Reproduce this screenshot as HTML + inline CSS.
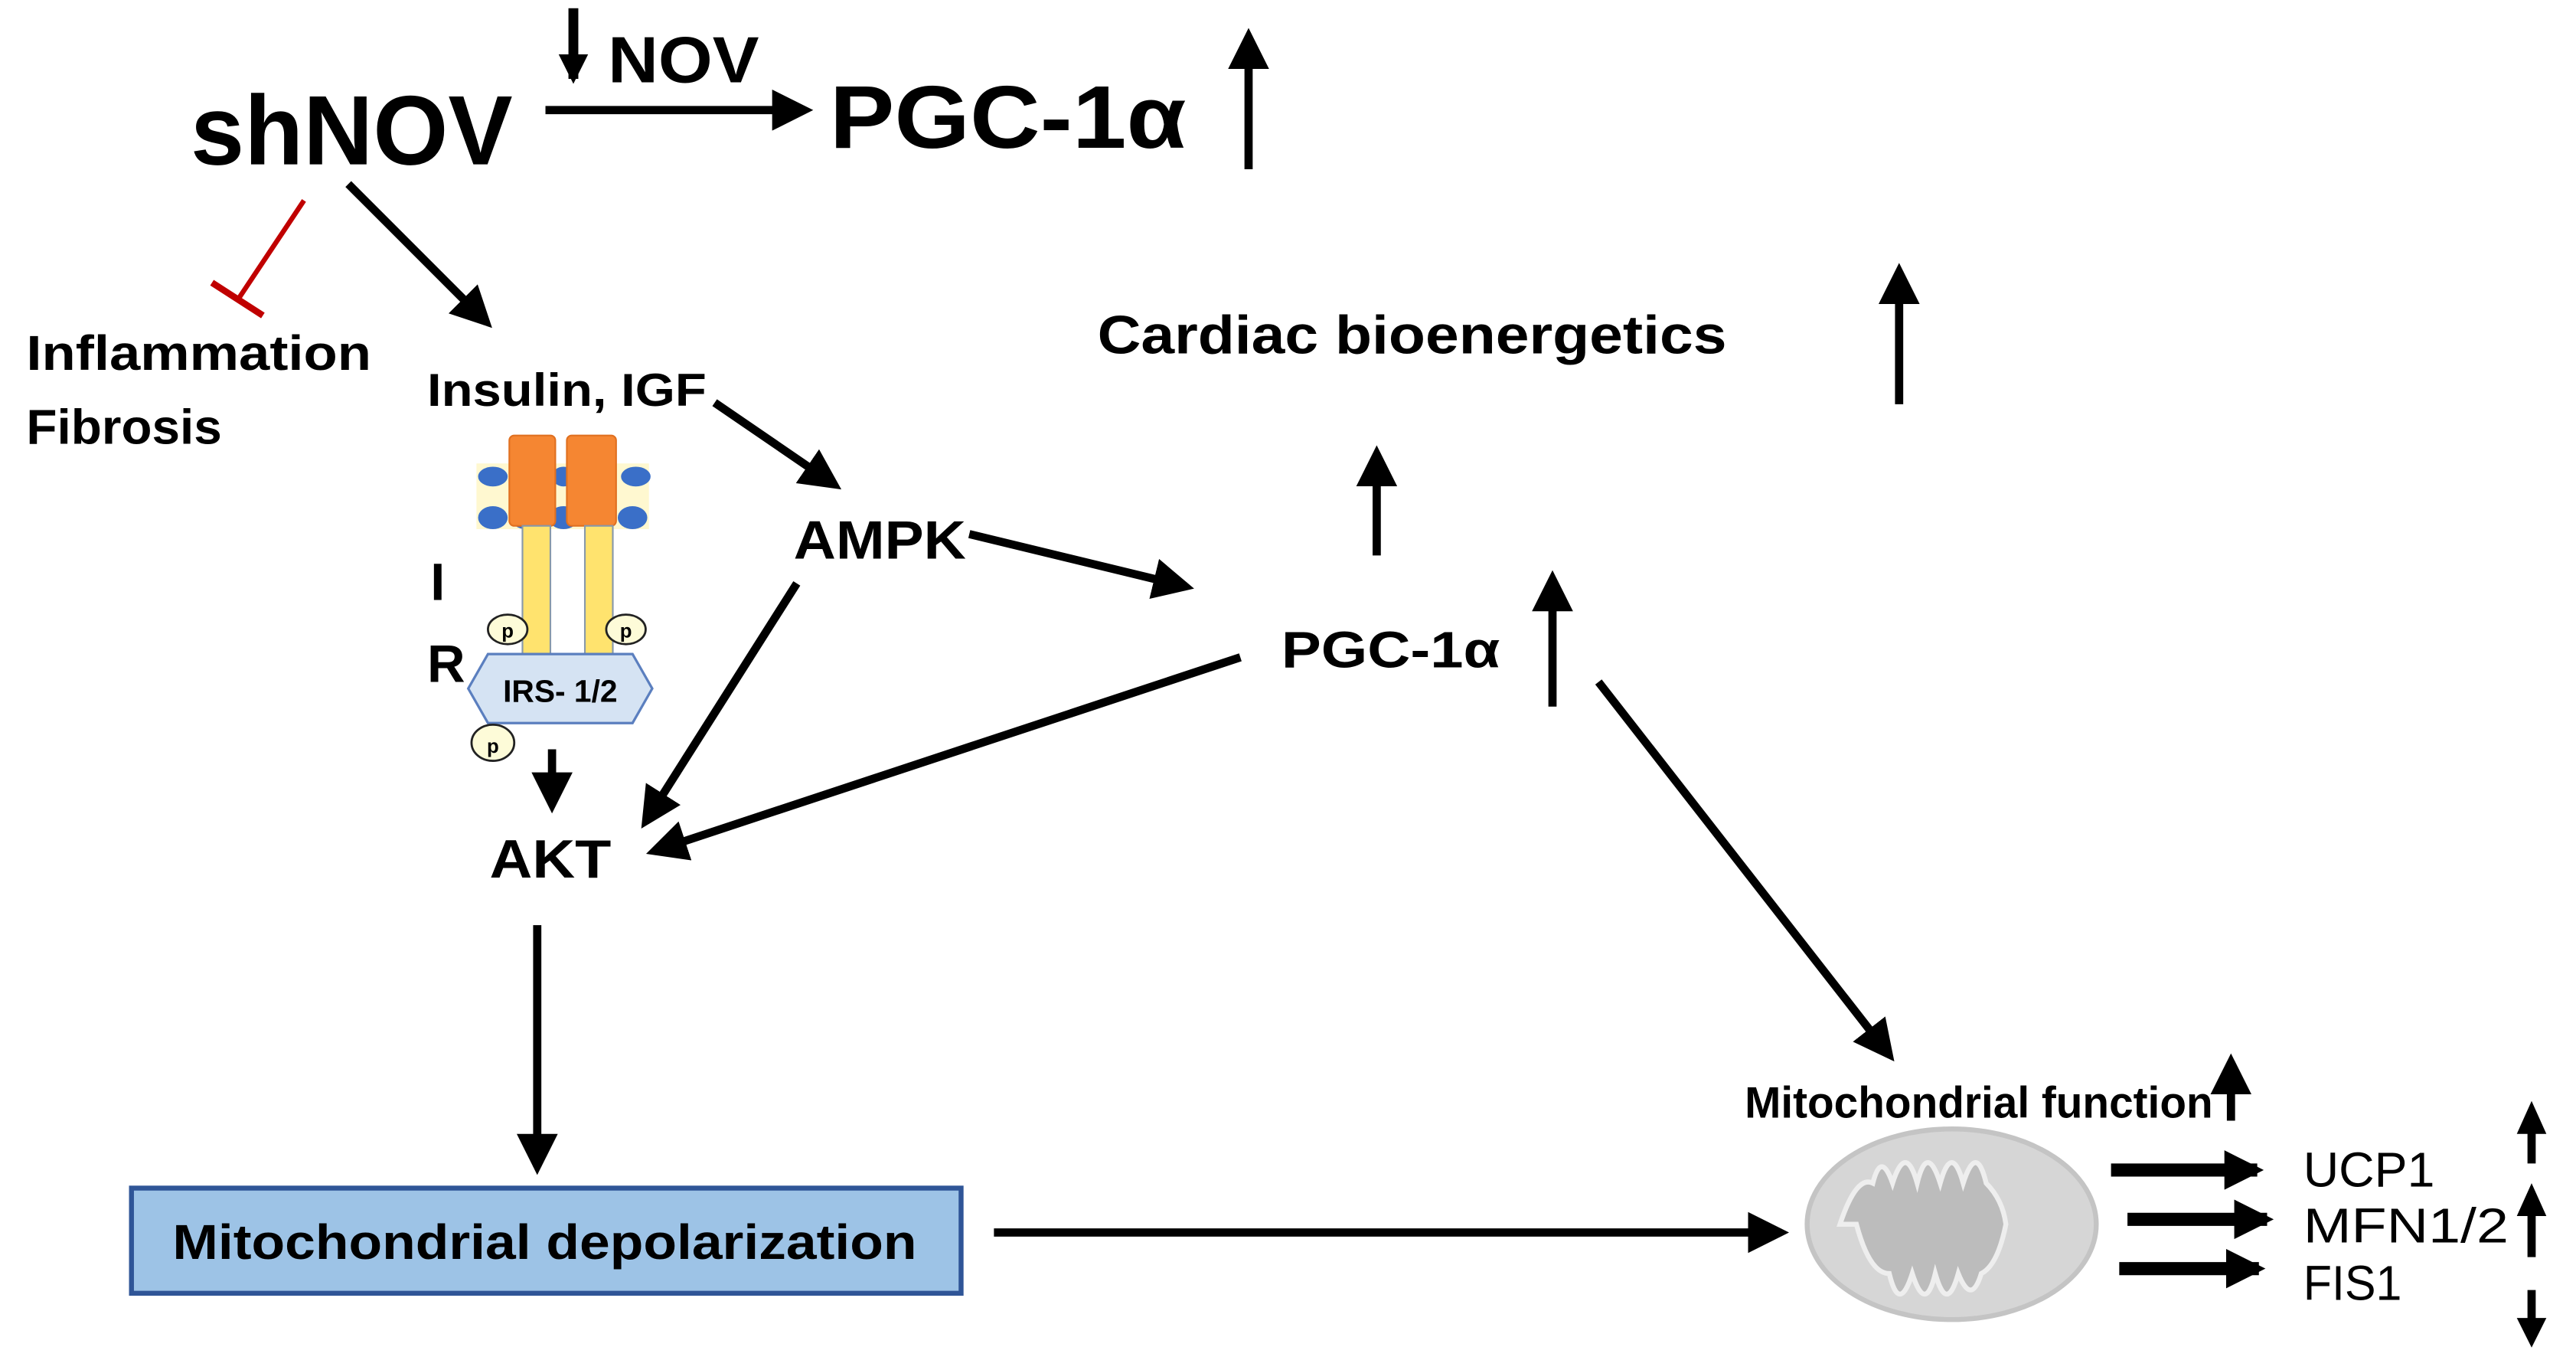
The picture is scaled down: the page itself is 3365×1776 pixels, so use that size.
<!DOCTYPE html>
<html><head><style>html,body{margin:0;padding:0;background:#fff}svg{display:block}</style></head>
<body>
<svg width="3365" height="1776" viewBox="0 0 1568 827.6" xmlns="http://www.w3.org/2000/svg" font-family="'Liberation Sans', sans-serif">
<defs>
<marker id="a" markerWidth="5" markerHeight="5" refX="4" refY="2.5" orient="auto" markerUnits="strokeWidth"><path d="M0,0 L5,2.5 L0,5 z" fill="#000"/></marker>
<marker id="b" markerWidth="3" markerHeight="3" refX="2.5" refY="1.5" orient="auto" markerUnits="strokeWidth"><path d="M0,0 L3,1.5 L0,3 z" fill="#000"/></marker>
</defs>
<g font-weight="bold" fill="#000">
<text x="116" y="100" font-size="60" textLength="196" lengthAdjust="spacingAndGlyphs">shNOV</text>
<text x="370" y="50" font-size="40" textLength="92" lengthAdjust="spacingAndGlyphs">NOV</text>
<text x="505" y="90" font-size="54" textLength="217" lengthAdjust="spacingAndGlyphs">PGC-1α</text>
<text x="16" y="225" font-size="30" textLength="210" lengthAdjust="spacingAndGlyphs">Inflammation</text>
<text x="16" y="270" font-size="30" textLength="119" lengthAdjust="spacingAndGlyphs">Fibrosis</text>
<text x="260" y="247" font-size="28" textLength="170" lengthAdjust="spacingAndGlyphs">Insulin, IGF</text>
<text x="483" y="340" font-size="33" textLength="105" lengthAdjust="spacingAndGlyphs">AMPK</text>
<text x="668" y="215" font-size="33" textLength="383" lengthAdjust="spacingAndGlyphs">Cardiac bioenergetics</text>
<text x="780" y="406" font-size="31" textLength="133" lengthAdjust="spacingAndGlyphs">PGC-1α</text>
<text x="262" y="365" font-size="32">I</text>
<text x="260" y="415" font-size="32">R</text>
<text x="298" y="534" font-size="33" textLength="74" lengthAdjust="spacingAndGlyphs">AKT</text>
</g>
<g stroke="#000" stroke-width="5" fill="none">
<line x1="349" y1="5" x2="349" y2="48" stroke-width="6" marker-end="url(#b)"/>
<line x1="332" y1="67" x2="490" y2="67" marker-end="url(#a)"/>
<line x1="760" y1="103" x2="760" y2="22" marker-end="url(#a)"/>
<line x1="212" y1="112" x2="296" y2="196" marker-end="url(#a)"/>
<line x1="435" y1="245" x2="508" y2="295" marker-end="url(#a)"/>
<line x1="590" y1="325" x2="722" y2="357" marker-end="url(#a)"/>
<line x1="485" y1="355" x2="393" y2="500" marker-end="url(#a)"/>
<line x1="755" y1="400" x2="398" y2="518" marker-end="url(#a)"/>
<line x1="945" y1="430" x2="945" y2="352" marker-end="url(#a)"/>
<line x1="838" y1="338" x2="838" y2="276" marker-end="url(#a)"/>
<line x1="1156" y1="246" x2="1156" y2="165" marker-end="url(#a)"/>
<line x1="973" y1="415" x2="1150" y2="642" marker-end="url(#a)"/>
<line x1="336" y1="456" x2="336" y2="490" marker-end="url(#a)"/>
<line x1="327" y1="563" x2="327" y2="710" marker-end="url(#a)"/>
<line x1="605" y1="750" x2="1084" y2="750" marker-end="url(#a)"/>
<line x1="1358" y1="682" x2="1358" y2="646" marker-end="url(#a)"/>
<line x1="1285" y1="712" x2="1374" y2="712" stroke-width="8" marker-end="url(#b)"/>
<line x1="1295" y1="742" x2="1380" y2="742" stroke-width="8" marker-end="url(#b)"/>
<line x1="1290" y1="772" x2="1375" y2="772" stroke-width="8" marker-end="url(#b)"/>
<line x1="1541" y1="708" x2="1541" y2="688"/>
<line x1="1541" y1="765" x2="1541" y2="738"/>
<line x1="1541" y1="785" x2="1541" y2="805"/>
</g>
<g fill="#000">
<polygon points="1532,690 1541,670 1550,690"/>
<polygon points="1532,740 1541,720 1550,740"/>
<polygon points="1532,802 1541,820 1550,802"/>
</g>
<line x1="185" y1="122" x2="145" y2="182" stroke="#c00000" stroke-width="3"/>
<line x1="129" y1="172" x2="160" y2="192" stroke="#c00000" stroke-width="4"/>
<!-- receptor -->
<rect x="290" y="282" width="105" height="40" fill="#fff8d0"/>
<g fill="#3a6fc8">
<ellipse cx="300" cy="290" rx="9" ry="6"/><ellipse cx="300" cy="315" rx="9" ry="7"/>
<ellipse cx="343" cy="290" rx="7" ry="6"/><ellipse cx="343" cy="315" rx="9" ry="7"/>
<ellipse cx="387" cy="290" rx="9" ry="6"/><ellipse cx="385" cy="315" rx="9" ry="7"/>
<ellipse cx="320" cy="315" rx="9" ry="7"/>
</g>
<rect x="310" y="265" width="28" height="55" rx="3" fill="#f58632" stroke="#e07020"/>
<rect x="345" y="265" width="30" height="55" rx="3" fill="#f58632" stroke="#e07020"/>
<rect x="318" y="320" width="17" height="80" fill="#ffe36e" stroke="#8899aa"/>
<rect x="356" y="320" width="17" height="80" fill="#ffe36e" stroke="#8899aa"/>
<polygon points="297,398 385,398 397,419 385,440 297,440 285,419" fill="#d5e3f3" stroke="#5b7fbf" stroke-width="1.5"/>
<text x="341" y="427" font-size="19" font-weight="bold" text-anchor="middle" fill="#000">IRS- 1/2</text>
<g fill="#fdfbd8" stroke="#222" stroke-width="1.3">
<ellipse cx="309" cy="383" rx="12" ry="9"/><ellipse cx="381" cy="383" rx="12" ry="9"/><ellipse cx="300" cy="452" rx="13" ry="11"/>
</g>
<g font-size="12" font-weight="bold" text-anchor="middle"><text x="309" y="388">p</text><text x="381" y="388">p</text><text x="300" y="458">p</text></g>
<!-- box -->
<rect x="80" y="723" width="505" height="64" fill="#9dc3e6" stroke="#2f5597" stroke-width="3"/>
<text x="105" y="766" font-size="30" font-weight="bold" textLength="453" lengthAdjust="spacingAndGlyphs">Mitochondrial depolarization</text>
<!-- mitochondrion -->
<ellipse cx="1188" cy="745" rx="88" ry="58" fill="#d6d6d6" stroke="#c4c4c4" stroke-width="3"/>
<path d="M1120,745 q10,-30 20,-25 q5,-20 12,0 q8,-25 15,0 q6,-25 14,0 q7,-25 14,0 q8,-25 14,0 q10,10 12,25 q-5,25 -15,30 q-6,20 -14,0 q-7,25 -14,0 q-6,25 -14,0 q-8,25 -14,0 q-12,0 -20,-30z" fill="#bcbcbc" stroke="#eee" stroke-width="3"/>
<g font-family="'Liberation Sans Narrow','Liberation Sans',sans-serif">
<text x="1062" y="680" font-size="27" font-weight="bold" textLength="285" lengthAdjust="spacingAndGlyphs">Mitochondrial function</text>
<text x="1402" y="722" font-size="30" textLength="80" lengthAdjust="spacingAndGlyphs">UCP1</text>
<text x="1402" y="756" font-size="30" textLength="125" lengthAdjust="spacingAndGlyphs">MFN1/2</text>
<text x="1402" y="791" font-size="30" textLength="60" lengthAdjust="spacingAndGlyphs">FIS1</text>
</g>
</svg>
</body></html>
